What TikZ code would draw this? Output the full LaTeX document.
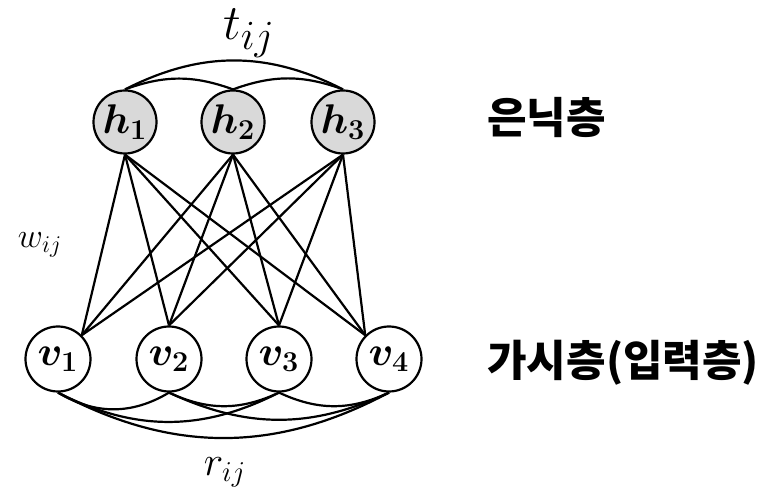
\documentclass[tikz,border=0pt]{standalone}
\usepackage{fontspec}
\usepackage{amsmath}
\usepackage{bm}
\usepackage{tikz}
\newfontfamily\krfont{Noto Sans CJK KR}
\definecolor{hidgray}{RGB}{217,217,217}
\tikzset{
  hid/.style={circle, draw, line width=1.1pt, fill=hidgray, minimum size=31.5pt,
              inner sep=0pt, font=\huge},
  vis/.style={circle, draw, line width=1.1pt, fill=white, minimum size=32.5pt,
              inner sep=0pt, font=\huge},
  wt/.style={line width=1.1pt},
  layer/.style={font=\krfont\bfseries\fontsize{21.5}{25}\selectfont, anchor=west, inner sep=0pt}
}

\begin{document}
\begin{tikzpicture}[x=0.5pt, y=-0.5pt]
  \useasboundingbox (0,0) rectangle (771,496);
  % hidden layer
  \node[hid] (h1) at (125,122) {$\bm{h_1}$};
  \node[hid] (h2) at (233,122) {$\bm{h_2}$};
  \node[hid] (h3) at (343,122) {$\bm{h_3}$};
  % visible layer
  \node[vis] (v1) at (58,359) {$\bm{v_1}$};
  \node[vis] (v2) at (169,359) {$\bm{v_2}$};
  \node[vis] (v3) at (279,359) {$\bm{v_3}$};
  \node[vis] (v4) at (389,359) {$\bm{v_4}$};
  % weights
  \draw[wt] (h1.south) -- (v1.north east); \draw[wt] (h1.south) -- (v2.north);
  \draw[wt] (h1.south) -- (v3.north); \draw[wt] (h1.south) -- (v4.north west);
  \draw[wt] (h2.south) -- (v1.north east); \draw[wt] (h2.south) -- (v2.north);
  \draw[wt] (h2.south) -- (v3.north); \draw[wt] (h2.south) -- (v4.north west);
  \draw[wt] (h3.south) -- (v1.north east); \draw[wt] (h3.south) -- (v2.north);
  \draw[wt] (h3.south) -- (v3.north); \draw[wt] (h3.south) -- (v4.north west);
  % hidden-hidden
  \draw[wt] (h1.north) to[bend left=20] (h2.north);
  \draw[wt] (h2.north) to[bend left=20] (h3.north);
  \draw[wt] (h1.north) to[bend left=27] (h3.north);
  % visible-visible
  \draw[wt] (v1.south) to[bend right=31] (v2.south);
  \draw[wt] (v2.south) to[bend right=25] (v3.south);
  \draw[wt] (v3.south) to[bend right=25] (v4.south);
  \draw[wt] (v1.south) to[bend right=27] (v3.south);
  \draw[wt] (v2.south) to[bend right=25] (v4.south);
  \draw[wt] (v1.south) to[bend right=28] (v4.south);
  % labels
  \node[font=\Huge] (tl) at (249,33) {$t_{ij}$};
  \node[font=\LARGE] (wl) at (40,245) {$w_{ij}$};
  \node[font=\huge] (rl) at (225,472) {$r_{ij}$};
  \node[layer] (hl) at (487,118) {은닉층};
  \node[layer] (vl) at (487,363) {가시층(입력층)};
\end{tikzpicture}
\end{document}
